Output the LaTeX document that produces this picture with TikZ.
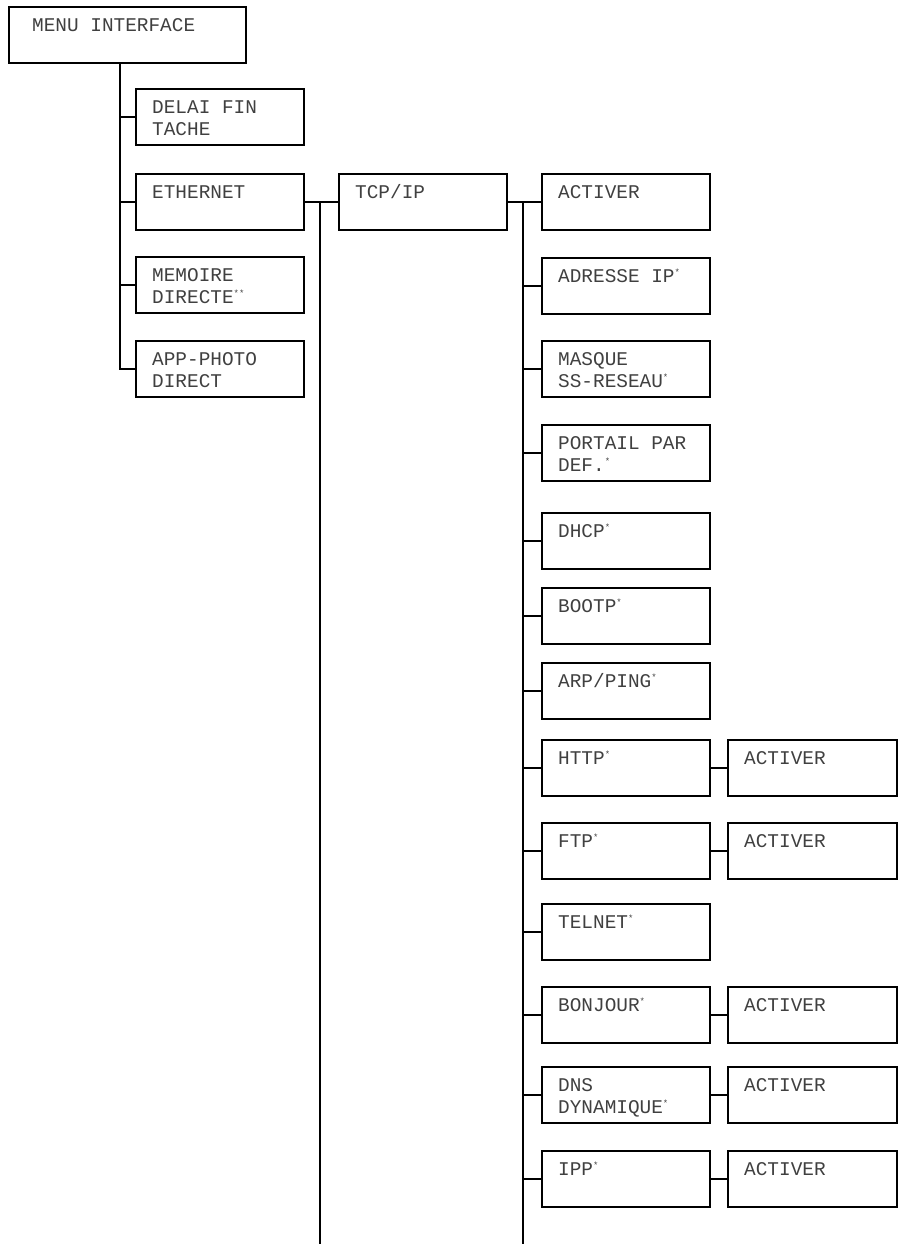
\documentclass[tikz,border=0pt]{standalone}
\usepackage{fontspec}
\setmonofont{Liberation Mono}

\definecolor{framecol}{RGB}{0,0,0}
\definecolor{labelgray}{RGB}{64,64,64}

\newcommand{\boxstrut}{\rule{0pt}{15pt}}
\newcommand{\fnmark}[1]{\smash{\raisebox{7pt}{\fontsize{9}{9}\selectfont #1}}}

\tikzset{
  menubox/.style={draw=framecol, line width=2pt, anchor=north west, inner sep=0pt,
    minimum width=168pt, minimum height=56pt},
  itemtext/.style={anchor=north west, align=left, inner sep=0pt, xshift=17pt, yshift=-10pt,
    text=labelgray, font=\fontsize{19.4}{22.5}\selectfont\ttfamily},
  item/.style={label={[itemtext]north west:\boxstrut #1}},
  conn/.style={draw=framecol, line width=2pt, line cap=rect}
}

\begin{document}
\begin{tikzpicture}[x=1pt, y=-1pt]
    \useasboundingbox (0,0) rectangle (904,1245);

    % Top menu
    \node[menubox, minimum width=237pt,
      label={[itemtext, xshift=7pt]north west:\boxstrut MENU INTERFACE}] (menu) at (8,6) {};

    % First level
    \node[menubox, item={DELAI FIN\\TACHE}] (delai) at (135,88) {};
    \node[menubox, item={ETHERNET}] (ether) at (135,173) {};
    \node[menubox, item={MEMOIRE\\DIRECTE\fnmark{**}}] (memoire) at (135,256) {};
    \node[menubox, item={APP-PHOTO\\DIRECT}] (photo) at (135,340) {};

    % Second level
    \node[menubox, item={TCP/IP}] (tcp) at (338,173) {};

    % Third level
    \node[menubox, item={ACTIVER}] (enable) at (541,173) {};
    \node[menubox, item={ADRESSE IP\fnmark{*}}] (ipaddr) at (541,257) {};
    \node[menubox, item={MASQUE\\SS-RESEAU\fnmark{*}}] (mask) at (541,340) {};
    \node[menubox, item={PORTAIL PAR\\DEF.\fnmark{*}}] (gateway) at (541,424) {};
    \node[menubox, item={DHCP\fnmark{*}}] (dhcp) at (541,512) {};
    \node[menubox, item={BOOTP\fnmark{*}}] (bootp) at (541,587) {};
    \node[menubox, item={ARP/PING\fnmark{*}}] (arp) at (541,662) {};
    \node[menubox, item={HTTP\fnmark{*}}] (http) at (541,739) {};
    \node[menubox, item={FTP\fnmark{*}}] (ftp) at (541,822) {};
    \node[menubox, item={TELNET\fnmark{*}}] (telnet) at (541,903) {};
    \node[menubox, item={BONJOUR\fnmark{*}}] (bonjour) at (541,986) {};
    \node[menubox, item={DNS\\DYNAMIQUE\fnmark{*}}] (ddns) at (541,1066) {};
    \node[menubox, item={IPP\fnmark{*}}] (ipp) at (541,1150) {};

    % Fourth level
    \node[menubox, minimum width=169pt, item={ACTIVER}] (httpon) at (727,739) {};
    \node[menubox, minimum width=169pt, item={ACTIVER}] (ftpon) at (727,822) {};
    \node[menubox, minimum width=169pt, item={ACTIVER}] (bonjouron) at (727,986) {};
    \node[menubox, minimum width=169pt, item={ACTIVER}] (ddnson) at (727,1066) {};
    \node[menubox, minimum width=169pt, item={ACTIVER}] (ippon) at (727,1150) {};

    % Trunk lines
    \coordinate (trunkA) at (120,0);
    \coordinate (trunkB) at (320,1243);
    \coordinate (trunkC) at (523,1243);

    % First level connectors
    \draw[conn] (trunkA |- menu.south) -- (trunkA |- photo.west);
    \draw[conn] (trunkA |- delai.west) -- (delai.west);
    \draw[conn] (trunkA |- ether.west) -- (ether.west);
    \draw[conn] (trunkA |- memoire.west) -- (memoire.west);
    \draw[conn] (trunkA |- photo.west) -- (photo.west);

    % Second level connectors
    \draw[conn] (ether.east) -- (tcp.west);
    \draw[conn] (trunkB |- ether.east) -- (trunkB);

    % Third level connectors
    \draw[conn] (tcp.east) -- (enable.west);
    \draw[conn] (trunkC |- tcp.east) -- (trunkC);
    \draw[conn] (trunkC |- ipaddr.west) -- (ipaddr.west);
    \draw[conn] (trunkC |- mask.west) -- (mask.west);
    \draw[conn] (trunkC |- gateway.west) -- (gateway.west);
    \draw[conn] (trunkC |- dhcp.west) -- (dhcp.west);
    \draw[conn] (trunkC |- bootp.west) -- (bootp.west);
    \draw[conn] (trunkC |- arp.west) -- (arp.west);
    \draw[conn] (trunkC |- http.west) -- (http.west);
    \draw[conn] (trunkC |- ftp.west) -- (ftp.west);
    \draw[conn] (trunkC |- telnet.west) -- (telnet.west);
    \draw[conn] (trunkC |- bonjour.west) -- (bonjour.west);
    \draw[conn] (trunkC |- ddns.west) -- (ddns.west);
    \draw[conn] (trunkC |- ipp.west) -- (ipp.west);

    % Fourth level connectors
    \draw[conn] (http.east) -- (httpon.west);
    \draw[conn] (ftp.east) -- (ftpon.west);
    \draw[conn] (bonjour.east) -- (bonjouron.west);
    \draw[conn] (ddns.east) -- (ddnson.west);
    \draw[conn] (ipp.east) -- (ippon.west);
\end{tikzpicture}
\end{document}
